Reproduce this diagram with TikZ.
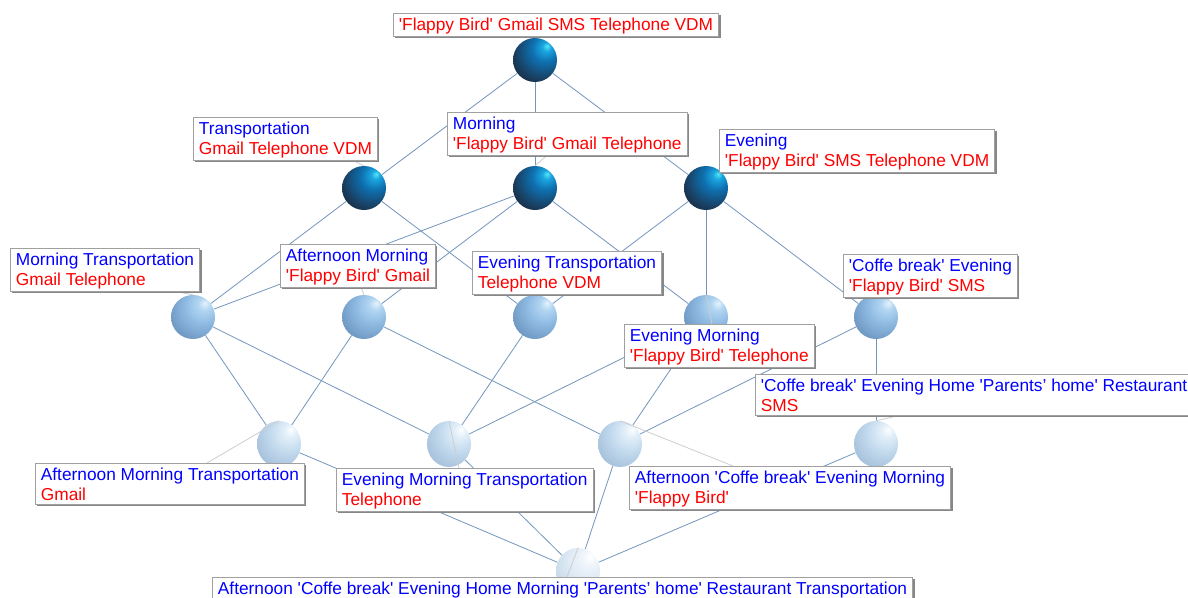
\documentclass[tikz,border=0pt]{standalone}
\usepackage{fontspec}
\newfontfamily\lab{Liberation Sans}
\usetikzlibrary{shadows,shapes.geometric}
\definecolor{edgec}{RGB}{115,150,190}
\definecolor{leadc}{RGB}{205,205,205}
\definecolor{tblue}{RGB}{0,0,255}
\definecolor{tred}{RGB}{255,0,0}
\definecolor{boxc}{RGB}{160,160,160}
\definecolor{shadc}{RGB}{135,135,135}
% top spheres
\definecolor{ta}{HTML}{55EAF5}
\definecolor{tb}{HTML}{1AA6E0}
\definecolor{tc}{HTML}{0E70B0}
\definecolor{td}{HTML}{1A3C5C}
\definecolor{te}{HTML}{0E141C}
% level 2
\definecolor{ma}{HTML}{E6F3FC}
\definecolor{mb}{HTML}{B2D6F2}
\definecolor{mc}{HTML}{8EBAE2}
\definecolor{md}{HTML}{6890BA}
\definecolor{me}{HTML}{3E5C80}
% level 3
\definecolor{la}{HTML}{FFFFFF}
\definecolor{lb}{HTML}{E2EFF9}
\definecolor{lc}{HTML}{C4DBEE}
\definecolor{ld}{HTML}{A0BCD8}
\definecolor{le}{HTML}{7E9ABA}
% bottom
\definecolor{ba}{HTML}{FFFFFF}
\definecolor{bb}{HTML}{EEF4FA}
\definecolor{bc}{HTML}{DAE7F3}
\definecolor{bd}{HTML}{C0D2E4}
\definecolor{be}{HTML}{9EB2C6}
\pgfdeclareradialshading{topball}{\pgfqpoint{14bp}{16bp}}{color(0bp)=(ta); color(5bp)=(tb); color(15bp)=(tc); color(32bp)=(td); color(50bp)=(te); color(80bp)=(te)}
\pgfdeclareradialshading{midball}{\pgfqpoint{14bp}{16bp}}{color(0bp)=(ma); color(7bp)=(mb); color(20bp)=(mc); color(40bp)=(md); color(58bp)=(me); color(80bp)=(me)}
\pgfdeclareradialshading{lowball}{\pgfqpoint{14bp}{16bp}}{color(0bp)=(la); color(7bp)=(lb); color(20bp)=(lc); color(40bp)=(ld); color(60bp)=(le); color(80bp)=(le)}
\pgfdeclareradialshading{botball}{\pgfqpoint{14bp}{16bp}}{color(0bp)=(ba); color(9bp)=(bb); color(24bp)=(bc); color(42bp)=(bd); color(62bp)=(be); color(80bp)=(be)}
\pgfdeclarelayer{edges}
\pgfdeclarelayer{leaders}
\pgfdeclarelayer{labels}
\pgfsetlayers{edges,main,leaders,labels}
\newcommand\lstrut{\rule[-1.5pt]{0pt}{16.5pt}}
\newcommand\twol[2]{\textcolor{tblue}{\lstrut#1}\\\textcolor{tred}{\lstrut#2}}
\newcommand\onered[1]{\textcolor{tred}{\lstrut#1}}
\newcommand\oneblue[1]{\textcolor{tblue}{\lstrut#1}}
\begin{document}
\begin{tikzpicture}[x=1pt,y=-1pt,
  edge/.style={draw=edgec, line width=0.8pt},
  leader/.style={draw=leadc, line width=0.8pt},
  sph/.style={circle, inner sep=0pt, minimum size=44pt, shade, shading=#1},
  sphe/.style={ellipse, inner sep=0pt, minimum width=44pt, minimum height=46pt, shade, shading=#1},
  lbl/.style={rectangle, draw=boxc, line width=0.8pt, fill=white, anchor=north west,
    inner xsep=5.5pt, inner ysep=2pt, align=left,
    font=\lab\fontsize{17.3pt}{20pt}\selectfont,
    drop shadow={shadow xshift=2pt, shadow yshift=-2pt, fill=shadc, opacity=1}}
]
\clip (0,0) rectangle (1188,597);
% spheres
\node[sph=topball] (T) at (535,60) {};
\node[sph=topball] (A) at (364,188) {};
\node[sph=topball] (B) at (535,188) {};
\node[sph=topball] (C) at (706,188) {};
\node[sph=midball] (D) at (193,317) {};
\node[sph=midball] (E) at (364,317) {};
\node[sph=midball] (F) at (535,317) {};
\node[sph=midball] (G) at (706,317) {};
\node[sph=midball] (H) at (876,317) {};
\node[sphe=lowball] (I) at (279,444) {};
\node[sphe=lowball] (J) at (449,444) {};
\node[sphe=lowball] (K) at (620,444) {};
\node[sphe=lowball] (L) at (876,444) {};
\node[sphe=botball] (M) at (578,571) {};
% edges
\begin{pgfonlayer}{edges}
\fill[white] (0,0) rectangle (1188,597);
\draw[edge] (T) -- (A);
\draw[edge] (T) -- (B);
\draw[edge] (T) -- (C);
\draw[edge] (A) -- (D);
\draw[edge] (A) -- (F);
\draw[edge] (B) -- (D);
\draw[edge] (B) -- (E);
\draw[edge] (B) -- (G);
\draw[edge] (C) -- (F);
\draw[edge] (C) -- (G);
\draw[edge] (C) -- (H);
\draw[edge] (D) -- (I);
\draw[edge] (D) -- (J);
\draw[edge] (E) -- (I);
\draw[edge] (E) -- (K);
\draw[edge] (F) -- (J);
\draw[edge] (G) -- (J);
\draw[edge] (G) -- (K);
\draw[edge] (H) -- (K);
\draw[edge] (H) -- (L);
\draw[edge] (I) -- (M);
\draw[edge] (J) -- (M);
\draw[edge] (K) -- (M);
\draw[edge] (L) -- (M);
\end{pgfonlayer}
% labels
\begin{pgfonlayer}{labels}
\node[lbl] (Tl) at (393,13) {\onered{'Flappy Bird' Gmail SMS Telephone VDM}};
\node[lbl] (Al) at (193,117) {\twol{Transportation}{Gmail Telephone VDM}};
\node[lbl] (Bl) at (447,112) {\twol{Morning}{'Flappy Bird' Gmail Telephone}};
\node[lbl] (Cl) at (719,129) {\twol{Evening}{'Flappy Bird' SMS Telephone VDM}};
\node[lbl] (Dl) at (10,248) {\twol{Morning Transportation}{Gmail Telephone}};
\node[lbl] (El) at (280,244) {\twol{Afternoon Morning}{'Flappy Bird' Gmail}};
\node[lbl] (Fl) at (472,251) {\twol{Evening Transportation}{Telephone VDM}};
\node[lbl] (Gl) at (624,324) {\twol{Evening Morning}{'Flappy Bird' Telephone}};
\node[lbl] (Hl) at (843,254) {\twol{'Coffe break' Evening}{'Flappy Bird' SMS}};
\node[lbl] (Ll) at (755,374) {\twol{'Coffe break' Evening Home 'Parents’ home' Restaurant}{SMS}};
\node[lbl] (Il) at (35,463) {\twol{Afternoon Morning Transportation}{Gmail}};
\node[lbl] (Jl) at (336,468) {\twol{Evening Morning Transportation}{Telephone}};
\node[lbl] (Kl) at (629,466) {\twol{Afternoon 'Coffe break' Evening Morning}{'Flappy Bird'}};
\node[lbl] (Ml) at (212,577) {\oneblue{Afternoon 'Coffe break' Evening Home Morning 'Parents’ home' Restaurant Transportation}};
\end{pgfonlayer}
% leader lines
\begin{pgfonlayer}{leaders}
\draw[leader] (T.north) -- (Tl.south);
\draw[leader] (A.north) -- ([xshift=-25pt]Al.south east);
\draw[leader] (B.north) -- ([xshift=100pt]Bl.south west);
\draw[leader] (D.north) -- ([xshift=165pt]Dl.south west);
\draw[leader] (E.north) -- ([xshift=81pt]El.south west);
\draw[leader] (F.north) -- ([xshift=73pt]Fl.south west);
\draw[leader] (G.north) -- ([xshift=88pt]Gl.north west);
\draw[leader] (I.north) -- ([xshift=172pt]Il.north west);
\draw[leader] (J.north) -- ([xshift=123pt]Jl.north west);
\draw[leader] (K.north) -- ([xshift=104pt]Kl.north west);
\draw[leader] (L.north) -- ([xshift=145pt]Ll.south west);
\draw[leader] (M.north) -- ([xshift=355pt]Ml.north west);
\end{pgfonlayer}
\end{tikzpicture}
\end{document}
